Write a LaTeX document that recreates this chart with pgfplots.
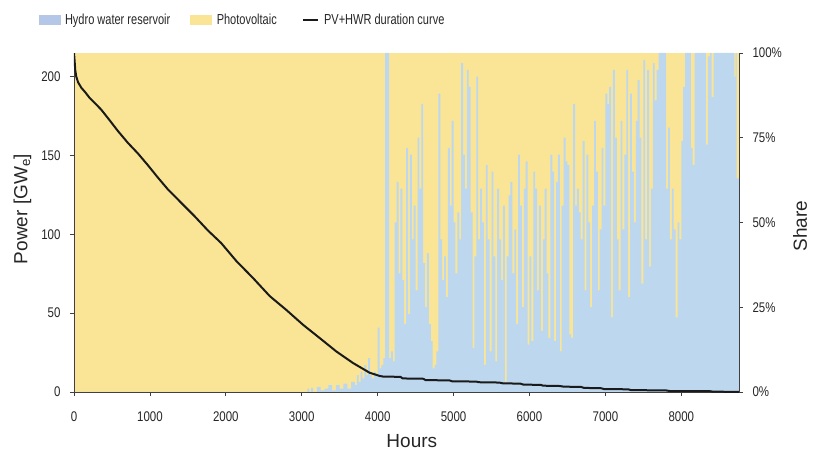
\documentclass[border=0pt]{standalone}
\usepackage{pgfplots}
\pgfplotsset{compat=1.18}
\usepackage{fontspec}
\setmainfont{Liberation Sans}
\newfontfamily\narrowfont{Liberation Sans}[FakeStretch=0.82]
\newfontfamily\legfont{Liberation Sans}[FakeStretch=0.76]
\definecolor{pvy}{HTML}{FAE597}
\definecolor{hwr}{HTML}{BDD7EE}
\definecolor{hwrleg}{HTML}{B4C7E7}
\definecolor{axgray}{HTML}{404040}
\definecolor{txt}{HTML}{262626}
\definecolor{curve}{HTML}{1A1A1A}
\begin{document}
\begin{tikzpicture}
\useasboundingbox (-74pt,-61pt) rectangle (741pt,392pt);
% ---------- share axis (right) ----------
\begin{axis}[
  at={(0pt,0pt)}, anchor=south west,
  scale only axis, width=665pt, height=339pt,
  xmin=0, xmax=8760, ymin=0, ymax=100,
  axis x line=none,
  axis y line*=right,
  axis on top,
  ytick={0,25,50,75,100},
  yticklabel={\pgfmathprintnumber{\tick}\%},
  /pgf/number format/assume math mode=true,
  tick align=outside, major tick length=4pt,
  axis line style={axgray, line width=0.9pt},
  tick style={axgray, line width=0.8pt},
  yticklabel style={font=\narrowfont\fontsize{14}{16}\selectfont, text=txt, xshift=6pt},
  ylabel={Share},
  ylabel style={font=\fontsize{19}{22}\selectfont, text=txt, at={(1.092,0.49)}, rotate=0, anchor=center},
  legend style={at={(-0.058,1.097)}, anchor=west, draw=none, fill=none,
    font=\legfont\fontsize{14.5}{16}\selectfont, text=txt},
  legend columns=3,
  legend cell align=left,
  /tikz/every odd column/.append style={column sep=3pt},
  /tikz/every even column/.append style={column sep=18pt},
]
\addplot[fill=pvy, draw=none, forget plot] coordinates {(0,100) (8760,100)} \closedcycle;
\addplot[fill=hwr, draw=none, const plot mark left, forget plot] coordinates {
(0,0) (3050,0) (3075,1) (3100,0) (3125,1.2) (3150,0) (3200,1.5) (3250,0.5) (3300,1) (3350,2)
(3400,0.5) (3450,2) (3500,1) (3550,2.5) (3600,1) (3650,3) (3700,2) (3725,5) (3750,3) (3775,6)
(3800,4) (3825,8) (3850,5) (3875,10)
(3900,5) (3925,4) (3950,6) (3975,5) (4000,19) (4025,7) (4050,8) (4075,10) (4100,100) (4125,100)
(4150,10) (4175,12) (4200,9) (4225,50) (4250,62) (4275,35) (4300,60) (4325,33) (4350,20) (4375,72)
(4400,23) (4425,70) (4450,45) (4475,55) (4500,30) (4525,75) (4550,60) (4575,85) (4600,38) (4625,25)
(4650,41) (4675,20) (4700,15) (4725,7) (4750,8) (4775,12) (4800,88) (4825,45) (4850,33) (4875,40)
(4900,28) (4925,72) (4950,55) (4975,80) (5000,50) (5025,35) (5050,53) (5075,45) (5100,97) (5125,70)
(5150,60) (5175,95) (5200,90)
(5225,53) (5250,13) (5275,40) (5300,93) (5325,45) (5350,60) (5375,50) (5400,8) (5425,67) (5450,45)
(5475,12) (5500,65) (5525,40) (5550,9) (5575,60) (5600,45) (5625,33) (5650,55) (5675,3) (5700,40)
(5725,58) (5750,62) (5775,35) (5800,48) (5825,20) (5850,70) (5875,55) (5900,25) (5925,60) (5950,68)
(5975,14) (6000,40) (6025,15) (6050,65) (6075,60) (6100,30) (6125,55) (6150,18) (6175,45) (6200,60)
(6225,35) (6250,16) (6275,70) (6300,65) (6325,15) (6350,62) (6375,70) (6400,12) (6425,55) (6450,75)
(6475,68)
(6500,67) (6525,17) (6550,16) (6575,85) (6600,55) (6625,60) (6650,53) (6675,45) (6700,74) (6725,30)
(6750,70) (6775,50) (6800,25) (6825,55) (6850,80) (6875,65) (6900,30) (6925,48) (6950,72) (6975,55)
(7000,88) (7025,85) (7050,90) (7075,22) (7100,95) (7125,75) (7150,45) (7175,30) (7200,80) (7225,48)
(7250,70) (7275,95) (7300,28) (7325,88) (7350,65) (7375,50) (7400,80) (7425,92) (7450,75) (7475,32)
(7500,98) (7525,45) (7550,95) (7575,37) (7600,60) (7625,97) (7650,86) (7675,95) (7700,100) (7725,100)
(7750,100) (7775,100)
(7800,60) (7825,78) (7850,45) (7875,60) (7900,48) (7925,22) (7950,50) (7975,45) (8000,74) (8025,90)
(8050,100) (8075,100) (8100,100) (8125,72) (8150,67) (8175,100) (8200,100) (8250,100) (8300,100)
(8325,73) (8350,99) (8375,100) (8400,87) (8425,100) (8500,100) (8600,100) (8700,93) (8715,100)
(8730,63) (8760,63)
} \closedcycle;
\addlegendimage{legend image code/.code={\fill[hwrleg] (0pt,-4.5pt) rectangle (21pt,4.5pt);}}
\addlegendentry{Hydro water reservoir}
\addlegendimage{legend image code/.code={\fill[pvy] (0pt,-4.5pt) rectangle (21pt,4.5pt);}}
\addlegendentry{Photovoltaic}
\addlegendimage{legend image code/.code={\path[draw=none, fill=none] (0pt,-4.5pt) rectangle (21pt,4.5pt); \draw[curve, line width=2.6pt] (6pt,0pt) -- (21pt,0pt);}}
\addlegendentry{PV+HWR duration curve}
\end{axis}
% ---------- power axis (left) ----------
\begin{axis}[
  at={(0pt,0pt)}, anchor=south west,
  scale only axis, width=665pt, height=339pt,
  xmin=0, xmax=8760, ymin=0, ymax=215,
  axis x line*=bottom, axis y line*=left,
  xtick={0,1000,2000,3000,4000,5000,6000,7000,8000},
  ytick={0,50,100,150,200},
  /pgf/number format/assume math mode=true,
  /pgf/number format/set thousands separator={},
  tick align=outside, major tick length=4pt,
  axis line style={axgray, line width=0.9pt},
  tick style={axgray, line width=0.8pt},
  ticklabel style={font=\narrowfont\fontsize{14}{16}\selectfont, text=txt},
  xticklabel style={yshift=-12pt},
  yticklabel style={xshift=-6pt},
  xlabel={Hours},
  xlabel style={font=\fontsize{19}{22}\selectfont, text=txt, at={(0.508,-0.145)}, anchor=center},
  ylabel={Power [GW\textsubscript{e}]},
  ylabel style={font=\fontsize{19}{22}\selectfont, text=txt, at={(-0.0774,0.54)}, anchor=center},
]
\addplot[curve, line width=2pt] coordinates {
(0,215) (5,212) (17,204) (30,200) (53,196.5) (96,193) (150,190) (206,186.5) (280,183) (360,179)
(470,172.3) (579,165.5) (710,158) (842,151.3) (974,143.8) (1105,136) (1237,128.5) (1412,120)
(1588,111.5) (1763,102.5) (1938,94.5) (2140,83) (2360,72.2) (2579,60.8) (2798,52) (3018,42.6)
(3237,34.2) (3456,25.7) (3675,18.4) (3895,12.2) (4026,10.2) (4070,9.8) (4300,9.6) (4330,8.6)
(4600,8.4) (4630,7.6) (4950,7.3) (4980,6.8) (5300,6.6) (5330,6.2) (5600,6.0) (5650,5.5)
(5880,5.3) (5920,4.7) (6150,4.5) (6180,4.0) (6400,3.8) (6450,3.4) (6680,3.2) (6720,2.6)
(6940,2.4) (6980,1.9) (7300,1.7) (7340,1.2) (7800,1.0) (7850,0.6) (8380,0.5) (8420,0.2) (8760,0.1)
};
\end{axis}
\end{tikzpicture}
\end{document}
